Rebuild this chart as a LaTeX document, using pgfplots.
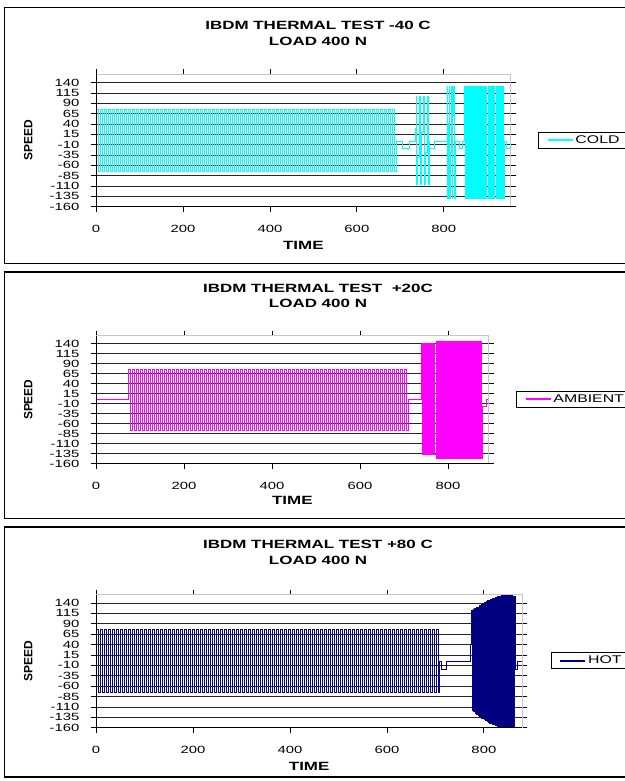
\documentclass[border=0pt]{standalone}
\usepackage{fontspec}
\setmainfont{Liberation Sans}[FakeStretch=1.42]
\newfontfamily\speedfont{Liberation Sans}
\usepackage{pgfplots}
\pgfplotsset{compat=1.18}
\definecolor{cold}{RGB}{0,255,255}
\definecolor{ambient}{RGB}{255,0,255}
\definecolor{hot}{RGB}{0,0,128}
\pgfplotsset{
  excelpanel/.style={
    scale only axis, anchor=south west,
    xmin=0, ymin=-160, ymax=160,
    ytick={-160,-135,...,140}, xtick={0,200,400,600,800},
    ymajorgrids, grid style={black!85, line width=0.8bp},
    tick align=outside, major tick length=5bp,
    tick style={black, line width=0.8bp},
    axis line style={draw=gray!45, line width=1bp},
    /pgf/number format/assume math mode=true,
    ticklabel style={font=\fontsize{10.5}{11}\selectfont},
    yticklabel style={anchor=east, inner sep=0pt, xshift=-11.5bp},
    xticklabel style={anchor=north, inner sep=0pt, yshift=-13.5bp},
    xlabel={TIME},
    xlabel style={anchor=center, inner sep=0pt, font=\bfseries\fontsize{12}{14}\selectfont},
    ylabel={SPEED},
    ylabel style={anchor=center, inner sep=0pt, font=\speedfont\bfseries\fontsize{12}{14}\selectfont},
    legend style={anchor=west, draw=black, line width=1bp, fill=white,
      font=\fontsize{11.2}{13}\selectfont, inner xsep=8bp, inner ysep=1.5bp},
    legend image code/.code={\draw[##1, line width=2bp] (0bp,0bp) -- (25bp,0bp);},
    extra description/.code={\draw[black, line width=1bp] (0,1) -- (0,0) -- (1,0);},
  }
}
\begin{document}
\begin{tikzpicture}[x=1bp,y=1bp]
\useasboundingbox (0,0) rectangle (625,781);
\clip (0,0) rectangle (625,781);
\fill[white] (0,0) rectangle (625,781);
% chart frames
\draw[black, line width=1.2bp] (4.5,517.5) rectangle (640,773.7);
\draw[black, line width=1.2bp] (4.5,262.5) rectangle (640,509);
\draw[black, line width=1.2bp] (4.5,4) rectangle (640,254);
% titles
\node[font=\bfseries\fontsize{12}{14}\selectfont, inner sep=0pt] at (318,755.3) {IBDM THERMAL TEST -40 C};
\node[font=\bfseries\fontsize{12}{14}\selectfont, inner sep=0pt] at (318,739.3) {LOAD 400 N};
\node[font=\bfseries\fontsize{12}{14}\selectfont, inner sep=0pt] at (318,492.3) {IBDM THERMAL TEST\ \ +20C};
\node[font=\bfseries\fontsize{12}{14}\selectfont, inner sep=0pt] at (318,477.3) {LOAD 400 N};
\node[font=\bfseries\fontsize{12}{14}\selectfont, inner sep=0pt] at (318,236.7) {IBDM THERMAL TEST +80 C};
\node[font=\bfseries\fontsize{12}{14}\selectfont, inner sep=0pt] at (318,220.7) {LOAD 400 N};

% ---------------- COLD ----------------
\begin{axis}[excelpanel, at={(96bp,574.3bp)}, width=414.7bp, height=132.3bp, xmax=953.81,
  xlabel style={at={(axis description cs:0.5,-0.2895)}},
  ylabel style={at={(axis description cs:-0.1633,0.5)}},
  legend style={at={(1.0658,0.502)}}]
\addplot[cold, line width=1bp, const plot] coordinates {
(0,10)
(1.15,76)(5.75,-76)(10.35,76)(14.95,-76)(19.55,76)(24.15,-76)(28.75,76)(33.35,-76)(37.95,76)(42.55,-76)
(47.15,76)(51.75,-76)(56.35,76)(60.95,-76)(65.55,76)(70.15,-76)(74.75,76)(79.35,-76)(83.95,76)(88.55,-76)
(93.15,76)(97.75,-76)(102.35,76)(106.95,-76)(111.55,76)(116.15,-76)(120.75,76)(125.35,-76)(129.95,76)(134.55,-76)
(139.15,76)(143.75,-76)(148.35,76)(152.95,-76)(157.55,76)(162.15,-76)(166.75,76)(171.35,-76)(175.95,76)(180.55,-76)
(185.15,76)(189.75,-76)(194.35,76)(198.95,-76)(203.55,76)(208.15,-76)(212.75,76)(217.35,-76)(221.95,76)(226.55,-76)
(231.15,76)(235.75,-76)(240.35,76)(244.95,-76)(249.55,76)(254.15,-76)(258.75,76)(263.35,-76)(267.95,76)(272.55,-76)
(277.15,76)(281.75,-76)(286.35,76)(290.95,-76)(295.55,76)(300.15,-76)(304.75,76)(309.35,-76)(313.95,76)(318.55,-76)
(323.15,76)(327.75,-76)(332.35,76)(336.95,-76)(341.55,76)(346.15,-76)(350.75,76)(355.35,-76)(359.95,76)(364.55,-76)
(369.15,76)(373.75,-76)(378.35,76)(382.95,-76)(387.55,76)(392.15,-76)(396.75,76)(401.35,-76)(405.95,76)(410.55,-76)
(415.15,76)(419.75,-76)(424.35,76)(428.95,-76)(433.55,76)(438.15,-76)(442.75,76)(447.35,-76)(451.95,76)(456.55,-76)
(461.15,76)(465.75,-76)(470.35,76)(474.95,-76)(479.55,76)(484.15,-76)(488.75,76)(493.35,-76)(497.95,76)(502.55,-76)
(507.15,76)(511.75,-76)(516.35,76)(520.95,-76)(525.55,76)(530.15,-76)(534.75,76)(539.35,-76)(543.95,76)(548.55,-76)
(553.15,76)(557.75,-76)(562.35,76)(566.95,-76)(571.55,76)(576.15,-76)(580.75,76)(585.35,-76)(589.95,76)(594.55,-76)
(599.15,76)(603.75,-76)(608.35,76)(612.95,-76)(617.55,76)(622.15,-76)(626.75,76)(631.35,-76)(635.95,76)(640.55,-76)
(645.15,76)(649.75,-76)(654.35,76)(658.95,-76)(663.55,76)(668.15,-76)(672.75,76)(677.35,-76)(681.95,76)(686.55,-76)
(690,-2)(706,-20)(722,-2)
(735,30)(736,106)(738,-107)(740,-40)(744,106)(746,-107)(748,20)(753,106)(755,-107)(757,-30)(762,106)(764,-107)
(766,-2)(768,-20)(779,-2)
(808,131)(809.5,-139)(811,40)(812.5,131)(814,-139)(816,-30)(818,131)(819.5,-139)(821,60)(822.5,131)(824,-139)
(826,-2)(835,-20)(844,-2)
(848,131)(849.5,-139)(851,131)(852.5,-139)(854,131)(855.5,-139)(857,131)(858.5,-139)(860,131)(861.5,-139)
(863,131)(864.5,-139)(866,131)(867.5,-139)(869,131)(870.5,-139)(872,131)(875,-139)(876.5,131)(878,-139)
(879.5,131)(881,-139)(882.5,131)(884,-139)(885.5,131)(887,-139)(888.5,131)(890,-139)(891.5,131)(893,-139)
(894.5,131)(896,-139)(897.5,131)(899,-139)(902,131)(903.5,-139)(905,131)(906.5,-139)(908,131)(909.5,-139)
(911,131)(912.5,-139)(914,131)(915.5,-139)(917,131)(920,-139)(921.5,131)(923,-139)(924.5,131)(926,-139)
(927.5,131)(929,-139)(930.5,131)(932,-139)(933.5,131)(935,-139)(936.5,131)(938,-139)
(939,-2)(943,-20)(953.8,-5)
};
\addlegendentry{COLD}
\end{axis}

% ---------------- AMBIENT ----------------
\begin{axis}[excelpanel, at={(96bp,317.3bp)}, width=392.7bp, height=128bp, xmax=892.5,
  xlabel style={at={(axis description cs:0.5,-0.286)}},
  ylabel style={at={(axis description cs:-0.1724,0.5)}},
  legend style={at={(1.0695,0.5016)}}]
\addplot[ambient, line width=1bp, const plot] coordinates {
(0,0)
(73.86,76)(78.41,-76)(82.95,76)(87.50,-76)(92.05,76)(96.59,-76)(101.14,76)(105.68,-76)(110.23,76)(114.77,-76)(119.32,76)
(123.86,-76)(128.41,76)(132.95,-76)(137.50,76)(142.05,-76)(146.59,76)(151.14,-76)(155.68,76)(160.23,-76)(164.77,76)(169.32,-76)
(173.86,76)(178.41,-76)(182.95,76)(187.50,-76)(192.05,76)(196.59,-76)(201.14,76)(205.68,-76)(210.23,76)(214.77,-76)(219.32,76)
(223.86,-76)(228.41,76)(232.95,-76)(237.50,76)(242.05,-76)(246.59,76)(251.14,-76)(255.68,76)(260.23,-76)(264.77,76)(269.32,-76)
(273.86,76)(278.41,-76)(282.95,76)(287.50,-76)(292.05,76)(296.59,-76)(301.14,76)(305.68,-76)(310.23,76)(314.77,-76)(319.32,76)
(323.86,-76)(328.41,76)(332.95,-76)(337.50,76)(342.05,-76)(346.59,76)(351.14,-76)(355.68,76)(360.23,-76)(364.77,76)(369.32,-76)
(373.86,76)(378.41,-76)(382.95,76)(387.50,-76)(392.05,76)(396.59,-76)(401.14,76)(405.68,-76)(410.23,76)(414.77,-76)(419.32,76)
(423.86,-76)(428.41,76)(432.95,-76)(437.50,76)(442.05,-76)(446.59,76)(451.14,-76)(455.68,76)(460.23,-76)(464.77,76)(469.32,-76)
(473.86,76)(478.41,-76)(482.95,76)(487.50,-76)(492.05,76)(496.59,-76)(501.14,76)(505.68,-76)(510.23,76)(514.77,-76)(519.32,76)
(523.86,-76)(528.41,76)(532.95,-76)(537.50,76)(542.05,-76)(546.59,76)(551.14,-76)(555.68,76)(560.23,-76)(564.77,76)(569.32,-76)
(573.86,76)(578.41,-76)(582.95,76)(587.50,-76)(592.05,76)(596.59,-76)(601.14,76)(605.68,-76)(610.23,76)(614.77,-76)(619.32,76)
(623.86,-76)(628.41,76)(632.95,-76)(637.50,76)(642.05,-76)(646.59,76)(651.14,-76)(655.68,76)(660.23,-76)(664.77,76)(669.32,-76)
(673.86,76)(678.41,-76)(682.95,76)(687.50,-76)(692.05,76)(696.59,-76)(701.14,76)(705.68,-76)
(710.23,0)
(740,140)(741.5,-137)(743,140)(744.5,-137)(746,140)(747.5,-137)(749,140)(750.5,-137)(752,140)(753.5,-137)
(755,140)(756.5,-137)(758,140)(759.5,-137)(761,140)(762.5,-137)(764,140)(765.5,-137)(767,140)(768.5,-137)
(773,146)(774.5,-148)(776,146)(777.5,-148)(779,146)(780.5,-148)(782,146)(783.5,-148)(785,146)(786.5,-148)
(788,146)(789.5,-148)(791,146)(792.5,-148)(794,146)(795.5,-148)(797,146)(798.5,-148)(800,146)(801.5,-148)
(803,146)(804.5,-148)(806,146)(807.5,-148)(809,146)(810.5,-148)(812,146)(815,-148)(816.5,146)(818,-148)
(819.5,146)(821,-148)(822.5,146)(824,-148)(825.5,146)(827,-148)(828.5,146)(830,-148)(831.5,146)(833,-148)
(834.5,146)(837.5,-148)(839,146)(840.5,-148)(842,146)(843.5,-148)(845,146)(846.5,-148)(848,146)(849.5,-148)
(851,146)(852.5,-148)(854,146)(855.5,-148)(857,146)(858.5,-148)(860,146)(861.5,-148)(863,146)(864.5,-148)
(866,146)(867.5,-148)(869,146)(870.5,-148)(872,146)(873.5,-148)(875,146)(876.5,-148)
(878,-18)(888,0)(892,0)
};
\addlegendentry{AMBIENT}
\end{axis}

% ---------------- HOT ----------------
\begin{axis}[excelpanel, at={(96bp,53.3bp)}, width=426.3bp, height=133bp, xmax=879.24375,
  xlabel style={at={(axis description cs:0.5,-0.29)}},
  ylabel style={at={(axis description cs:-0.1588,0.5)}},
  legend style={at={(1.0666,0.503)}}]
\addplot[hot, line width=1bp, const plot] coordinates {
(0,22)
(1.031,76)(5.156,-76)(9.281,76)(13.406,-76)(17.531,76)(21.656,-76)(25.781,76)(29.906,-76)
(34.031,76)(38.156,-76)(42.281,76)(46.406,-76)(50.531,76)(54.656,-76)(58.781,76)(62.906,-76)
(67.031,76)(71.156,-76)(75.281,76)(79.406,-76)(83.531,76)(87.656,-76)(91.781,76)(95.906,-76)
(100.031,76)(104.156,-76)(108.281,76)(112.406,-76)(116.531,76)(120.656,-76)(124.781,76)(128.906,-76)
(133.031,76)(137.156,-76)(141.281,76)(145.406,-76)(149.531,76)(153.656,-76)(157.781,76)(161.906,-76)
(166.031,76)(170.156,-76)(174.281,76)(178.406,-76)(182.531,76)(186.656,-76)(190.781,76)(194.906,-76)
(199.031,76)(203.156,-76)(207.281,76)(211.406,-76)(215.531,76)(219.656,-76)(223.781,76)(227.906,-76)
(232.031,76)(236.156,-76)(240.281,76)(244.406,-76)(248.531,76)(252.656,-76)(256.781,76)(260.906,-76)
(265.031,76)(269.156,-76)(273.281,76)(277.406,-76)(281.531,76)(285.656,-76)(289.781,76)(293.906,-76)
(298.031,76)(302.156,-76)(306.281,76)(310.406,-76)(314.531,76)(318.656,-76)(322.781,76)(326.906,-76)
(331.031,76)(335.156,-76)(339.281,76)(343.406,-76)(347.531,76)(351.656,-76)(355.781,76)(359.906,-76)
(364.031,76)(368.156,-76)(372.281,76)(376.406,-76)(380.531,76)(384.656,-76)(388.781,76)(392.906,-76)
(397.031,76)(401.156,-76)(405.281,76)(409.406,-76)(413.531,76)(417.656,-76)(421.781,76)(425.906,-76)
(430.031,76)(434.156,-76)(438.281,76)(442.406,-76)(446.531,76)(450.656,-76)(454.781,76)(458.906,-76)
(463.031,76)(467.156,-76)(471.281,76)(475.406,-76)(479.531,76)(483.656,-76)(487.781,76)(491.906,-76)
(496.031,76)(500.156,-76)(504.281,76)(508.406,-76)(512.531,76)(516.656,-76)(520.781,76)(524.906,-76)
(529.031,76)(533.156,-76)(537.281,76)(541.406,-76)(545.531,76)(549.656,-76)(553.781,76)(557.906,-76)
(562.031,76)(566.156,-76)(570.281,76)(574.406,-76)(578.531,76)(582.656,-76)(586.781,76)(590.906,-76)
(595.031,76)(599.156,-76)(603.281,76)(607.406,-76)(611.531,76)(615.656,-76)(619.781,76)(623.906,-76)
(628.031,76)(632.156,-76)(636.281,76)(640.406,-76)(644.531,76)(648.656,-76)(652.781,76)(656.906,-76)
(661.031,76)(665.156,-76)(669.281,76)(673.406,-76)(677.531,76)(681.656,-76)(685.781,76)(689.906,-76)
(694.031,76)(698.156,-76)(702.281,76)(706.406,-76)
(708,0)(713,-20)(723,0)
(772,40)(775,122)(776.5,-118)(778,124)(779.5,-122)(781,126)(782.5,-126)(784,128)(785.5,-128)(787,130)(788.5,-131)
(790,133)(791.5,-134)(793,135)(794.5,-137)(796,137)(797.5,-139)(799,139)(800.5,-141)(802,141)(803.5,-143)
(805,143)(806.5,-145)(808,145)(809.5,-147)(811,147)(812.5,-149)(814,149)(815.5,-151)(817,150)(818.5,-152)
(820,152)(821.5,-153)(823,153)(824.5,-155)(826,154)(827.5,-156)(829,155)(830.5,-157)
(833,156)(834.5,-158)(837,157)(838.5,-159)(840,157)(842,-159)(845,157)(846.5,-159)(848,157)(850,-160)
(853,157)(854.5,-160)(856,157)(858,-160)(861,156)(862.5,-160)(864,155)
(866,-20)(869,0)(879.2,0)
};
\addlegendentry{HOT}
\end{axis}
\end{tikzpicture}
\end{document}
